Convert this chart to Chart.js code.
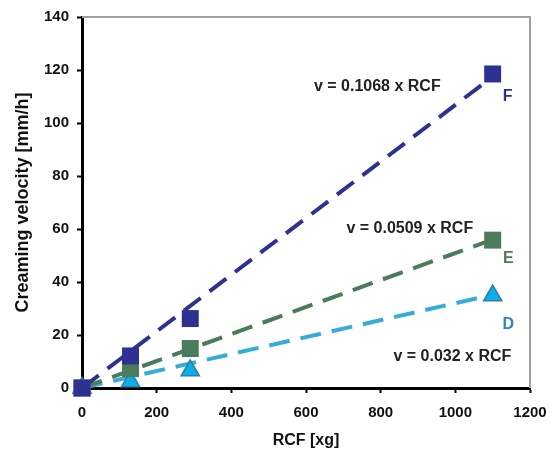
<!DOCTYPE html>
<html><head><meta charset="utf-8">
<script src="https://cdn.jsdelivr.net/npm/chart.js@4.4.1/dist/chart.umd.min.js"></script>
<style>html,body{margin:0;padding:0;background:#fff}#wrap{width:560px;height:453px}</style>
</head><body><div id="wrap"><canvas id="c" width="560" height="453"></canvas></div>
<script>
const rcf = [0, 130, 290, 1100];
const seriesF = [0, 12.1, 26.2, 118.5];
const seriesE = [0, 7.3, 14.9, 55.8];
const seriesD = [0, 2.5, 6.6, 34.9];
const fitX = [0, 1100];
const fitF = [0, 117.5];
const fitE = [0, 56];
const fitD = [0, 35.2];
const yTicks = [0, 20, 40, 60, 80, 100, 120, 140];
const xTicks = [0, 200, 400, 600, 800, 1000, 1200];
const eqLabels = ['v = 0.1068 x RCF', 'v = 0.0509 x RCF', 'v = 0.032 x RCF'];
const seriesNames = ['F', 'E', 'D'];

const cF = '#2e3192', cE = '#4a7b5b', cD = '#36acd9';
const pts = (xs, ys) => xs.map((x, i) => ({x, y: ys[i]}));
const FONT = "'Liberation Sans', Arial, sans-serif";

const annot = {
  id: 'annot',
  afterDatasetsDraw(chart) {
    const {ctx, chartArea: a, scales: {x, y}} = chart;
    ctx.save();
    ctx.strokeStyle = '#a0a0a0'; ctx.lineWidth = 2;
    ctx.beginPath(); ctx.moveTo(a.left, a.top); ctx.lineTo(a.right, a.top); ctx.lineTo(a.right, a.bottom); ctx.stroke();
    ctx.font = 'bold 16px ' + FONT; ctx.fillStyle = '#222'; ctx.textAlign = 'center'; ctx.textBaseline = 'middle';
    ctx.fillText(eqLabels[0], x.getPixelForValue(791), y.getPixelForValue(113.8));
    ctx.fillText(eqLabels[1], x.getPixelForValue(878), y.getPixelForValue(60));
    ctx.fillText(eqLabels[2], x.getPixelForValue(992), y.getPixelForValue(11.9));
    ctx.font = 'bold 16px ' + FONT;
    ctx.fillStyle = cF; ctx.fillText(seriesNames[0], x.getPixelForValue(1140), y.getPixelForValue(110));
    ctx.fillStyle = cE; ctx.fillText(seriesNames[1], x.getPixelForValue(1142), y.getPixelForValue(49));
    ctx.fillStyle = '#2f87b0'; ctx.fillText(seriesNames[2], x.getPixelForValue(1142), y.getPixelForValue(23.8));
    ctx.restore();
  }
};

const lineDs = (data, col) => ({type: 'line', data, borderColor: col, borderWidth: 4, borderDash: [21, 11],
  pointRadius: 0, showLine: true, fill: false, order: 2});
const markDs = (data, col, style, border) => ({type: 'scatter', data, backgroundColor: col, borderColor: border || col,
  borderWidth: border ? 1.5 : 0, pointStyle: style, pointRadius: style === 'triangle' ? 10.5 : 12, showLine: false, order: 1});

new Chart(document.getElementById('c'), {
  type: 'scatter',
  data: {datasets: [
    lineDs(pts(fitX, fitF), cF), lineDs(pts(fitX, fitE), cE), lineDs(pts(fitX, fitD), cD),
    markDs(pts(rcf, seriesF), cF, 'rect'), markDs(pts(rcf, seriesE), cE, 'rect'),
    markDs(pts(rcf, seriesD), '#0aaee8', 'triangle', '#2f7f9f')
  ]},
  options: {
    responsive: false, animation: false, devicePixelRatio: 1,
    layout: {padding: {left: 0, right: 30, top: 17, bottom: 0}},
    plugins: {legend: {display: false}, tooltip: {enabled: false}},
    clip: false,
    scales: {
      x: {type: 'linear', min: 0, max: 1200,
        afterBuildTicks: s => { s.ticks = xTicks.map(v => ({value: v})); },
        afterFit: s => { s.height = 65; },
        border: {color: '#000', width: 3},
        grid: {drawOnChartArea: false, drawTicks: true, tickLength: 5, tickColor: '#000', tickWidth: 2},
        ticks: {color: '#111', font: {family: FONT, size: 15, weight: 'bold'}, padding: 11, maxRotation: 0,
          callback: v => String(v)},
        title: {display: true, text: 'RCF [xg]', color: '#111', font: {family: FONT, size: 16, weight: 'bold'}, padding: {top: 0, bottom: 3}}
      },
      y: {type: 'linear', min: 0, max: 140,
        afterBuildTicks: s => { s.ticks = yTicks.map(v => ({value: v})); },
        afterFit: s => { s.width = 82; },
        border: {color: '#000', width: 3},
        grid: {drawOnChartArea: false, drawTicks: true, tickLength: 5, tickColor: '#000', tickWidth: 2},
        ticks: {color: '#111', font: {family: FONT, size: 15, weight: 'bold'}, padding: 8, callback: v => String(v)},
        title: {display: true, text: 'Creaming velocity [mm/h]', color: '#111', font: {family: FONT, size: 18, weight: 'bold'}, padding: {top: 12, bottom: 0}}
      }
    }
  },
  plugins: [annot]
});
</script></body></html>
